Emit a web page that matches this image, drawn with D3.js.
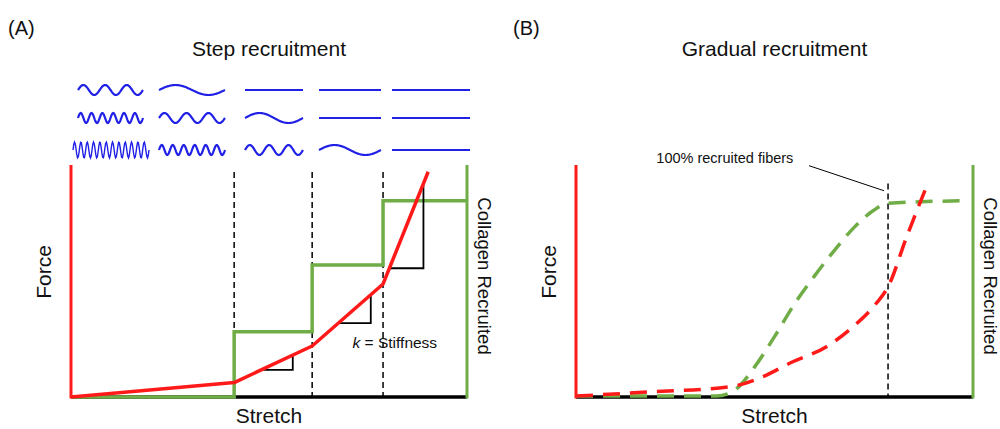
<!DOCTYPE html>
<html>
<head>
<meta charset="utf-8">
<script src="https://cdn.jsdelivr.net/npm/d3@7"></script>
<style>
  body { margin: 0; background: #fff; }
  svg text { font-family: "Liberation Sans", Arial, sans-serif; fill: #111; }
</style>
</head>
<body>
<script>
// ---- data (stretch and force in 0..100 units) ----
var panelLabels = ['(A)', '(B)'];
var panelTitles = ['Step recruitment', 'Gradual recruitment'];

// panel A: recruitment thresholds and collagen fraction after each step
var stepStretch = [41.2, 60.9, 78.8];
var stepRecruited = [28.1, 56.9, 84.6];
// piecewise-linear force curve
var forceStretchA = [0, 41.2, 60.9, 78.8, 90.2];
var forceValueA = [0, 6.2, 22, 48.7, 97.1];
// stiffness triangles: [start stretch, end stretch]
var stiffTriangles = [[48, 56], [67.5, 75.7], [80.4, 89]];

// crimp waves: cycles per fibre (0 = straight), rows x columns
var waveCycles = [
    [3, 1, 0, 0, 0],
    [6, 3, 1, 0, 0],
    [12, 6, 3, 1, 0]];

// panel B: gradual recruitment curves
var recruitStretchB = [0, 35.4, 40, 45, 50, 55, 60, 65, 70, 75, 78.6, 98];
var recruitValueB = [0.4, 0.4, 3, 13, 26, 40, 52, 63, 73, 80.5, 83.5, 84.6];
var forceStretchB = [0, 18.6, 38.8, 46.3, 54.6, 63.1, 69.8, 75.7, 78.6, 83.3, 88.8];
var forceValueB = [0.4, 2.2, 4.4, 8.2, 15.2, 21.7, 30.3, 40.5, 47.5, 69.1, 92.8];
var fullRecruitStretch = 78.6;

var width = 1000, height = 429;
var RED = '#ff1a1a', GREEN = '#70ad47', BLUE = '#2020e6';

var svg = d3.select('body').append('svg')
    .attr('width', width)
    .attr('height', height);

var y = d3.scaleLinear().domain([0, 100]).range([397, 165]);
var xA = d3.scaleLinear().domain([0, 100]).range([71, 467]);
var xB = d3.scaleLinear().domain([0, 100]).range([576, 973]);

function drawFrame(x, label, title, labelX) {
    svg.append('text').attr('x', labelX).attr('y', 35)
        .style('font-size', '20px').text(label);
    svg.append('text').attr('x', x(50)).attr('y', 56)
        .attr('text-anchor', 'middle').style('font-size', '21px').text(title);
    // axes
    svg.append('line').attr('x1', x(0)).attr('x2', x(100)).attr('y1', y(0)).attr('y2', y(0))
        .attr('stroke', '#000').attr('stroke-width', 3.5);
    svg.append('line').attr('x1', x(0)).attr('x2', x(0)).attr('y1', y(0) + 1.5).attr('y2', y(100))
        .attr('stroke', RED).attr('stroke-width', 3);
    svg.append('line').attr('x1', x(100)).attr('x2', x(100)).attr('y1', y(0) + 1.5).attr('y2', y(100))
        .attr('stroke', GREEN).attr('stroke-width', 3);
    svg.append('text')
        .attr('transform', 'translate(' + (x(0) - 20) + ',272) rotate(-90)')
        .attr('text-anchor', 'middle').style('font-size', '21px').text('Force');
    svg.append('text').attr('x', x(50)).attr('y', 423)
        .attr('text-anchor', 'middle').style('font-size', '21px').text('Stretch');
    svg.append('text')
        .attr('transform', 'translate(' + (x(100) + 11) + ',276) rotate(90)')
        .attr('text-anchor', 'middle').style('font-size', '18.5px').text('Collagen Recruited');
}

drawFrame(xA, panelLabels[0], panelTitles[0], 8);
drawFrame(xB, panelLabels[1], panelTitles[1], 513);

// ---- panel A ----
var gA = svg.append('g');

// dashed thresholds
gA.selectAll('.thr').data(stepStretch).enter().append('line')
    .attr('x1', function (d) { return xA(d); })
    .attr('x2', function (d) { return xA(d); })
    .attr('y1', y(97)).attr('y2', y(0))
    .attr('stroke', '#000').attr('stroke-width', 1.5)
    .attr('stroke-dasharray', '6,4');

// green staircase
var stepPts = [[0, 0]];
var level = 0;
stepStretch.forEach(function (s, i) {
    stepPts.push([s, level]);
    level = stepRecruited[i];
    stepPts.push([s, level]);
});
stepPts.push([100, level]);
gA.append('path')
    .datum(stepPts)
    .attr('d', d3.line().x(function (d) { return xA(d[0]); }).y(function (d) { return y(d[1]); }))
    .attr('fill', 'none').attr('stroke', GREEN).attr('stroke-width', 3.5);

// stiffness triangles
var forceInterpA = d3.scaleLinear().domain(forceStretchA).range(forceValueA);
gA.selectAll('.tri').data(stiffTriangles).enter().append('path')
    .attr('d', function (d) {
        var f0 = forceInterpA(d[0]), f1 = forceInterpA(d[1]);
        return 'M' + xA(d[0]) + ',' + y(f0) + 'L' + xA(d[1]) + ',' + y(f0) + 'L' + xA(d[1]) + ',' + y(f1);
    })
    .attr('fill', 'none').attr('stroke', '#000').attr('stroke-width', 1.8);

// red force curve
gA.append('path')
    .datum(d3.zip(forceStretchA, forceValueA))
    .attr('d', d3.line().x(function (d) { return xA(d[0]); }).y(function (d) { return y(d[1]); }))
    .attr('fill', 'none').attr('stroke', RED).attr('stroke-width', 3.5)
    .attr('stroke-linejoin', 'round');

var kText = gA.append('text').attr('x', xA(71.1)).attr('y', 348).style('font-size', '15.5px');
kText.append('tspan').style('font-style', 'italic').text('k');
kText.append('tspan').text(' = Stiffness');

// crimp waves
var colX = [[78, 143], [159, 225], [245, 303], [319, 381], [392, 470]];
var rowY = [90, 118, 150];
waveCycles.forEach(function (row, r) {
    row.forEach(function (c, k) {
        var x0 = colX[k][0], x1 = colX[k][1];
        if (r === 2 && k === 0) { x0 = 73; x1 = 149; }
        var amp = c === 0 ? 0 : (c >= 12 ? 8 : 5);
        var pts = d3.range(0, 101).map(function (i) {
            var t = i / 100;
            return [x0 + t * (x1 - x0), rowY[r] - amp * Math.sin(t * c * 2 * Math.PI)];
        });
        gA.append('path')
            .datum(pts)
            .attr('d', d3.line())
            .attr('fill', 'none').attr('stroke', BLUE)
            .attr('stroke-width', c >= 12 ? 1.4 : 2.2);
    });
});

// ---- panel B ----
var gB = svg.append('g');

gB.append('line')
    .attr('x1', xB(fullRecruitStretch)).attr('x2', xB(fullRecruitStretch))
    .attr('y1', y(92)).attr('y2', y(0))
    .attr('stroke', '#000').attr('stroke-width', 1.5)
    .attr('stroke-dasharray', '6,4');

gB.append('line')
    .attr('x1', xB(58.7)).attr('y1', y(99.7))
    .attr('x2', xB(77.6)).attr('y2', y(88.9))
    .attr('stroke', '#000').attr('stroke-width', 1);
gB.append('text').attr('x', xB(37.5)).attr('y', 163)
    .attr('text-anchor', 'middle').style('font-size', '14.5px').text('100% recruited fibers');

var lineB = d3.line()
    .x(function (d) { return xB(d[0]); })
    .y(function (d) { return y(d[1]); })
    .curve(d3.curveMonotoneX);

gB.append('path')
    .datum(d3.zip(recruitStretchB, recruitValueB))
    .attr('d', lineB)
    .attr('fill', 'none').attr('stroke', GREEN).attr('stroke-width', 3.5)
    .attr('stroke-dasharray', '17,10');

gB.append('path')
    .datum(d3.zip(forceStretchB, forceValueB))
    .attr('d', lineB)
    .attr('fill', 'none').attr('stroke', RED).attr('stroke-width', 3.5)
    .attr('stroke-dasharray', '17,10');
</script>
</body>
</html>
